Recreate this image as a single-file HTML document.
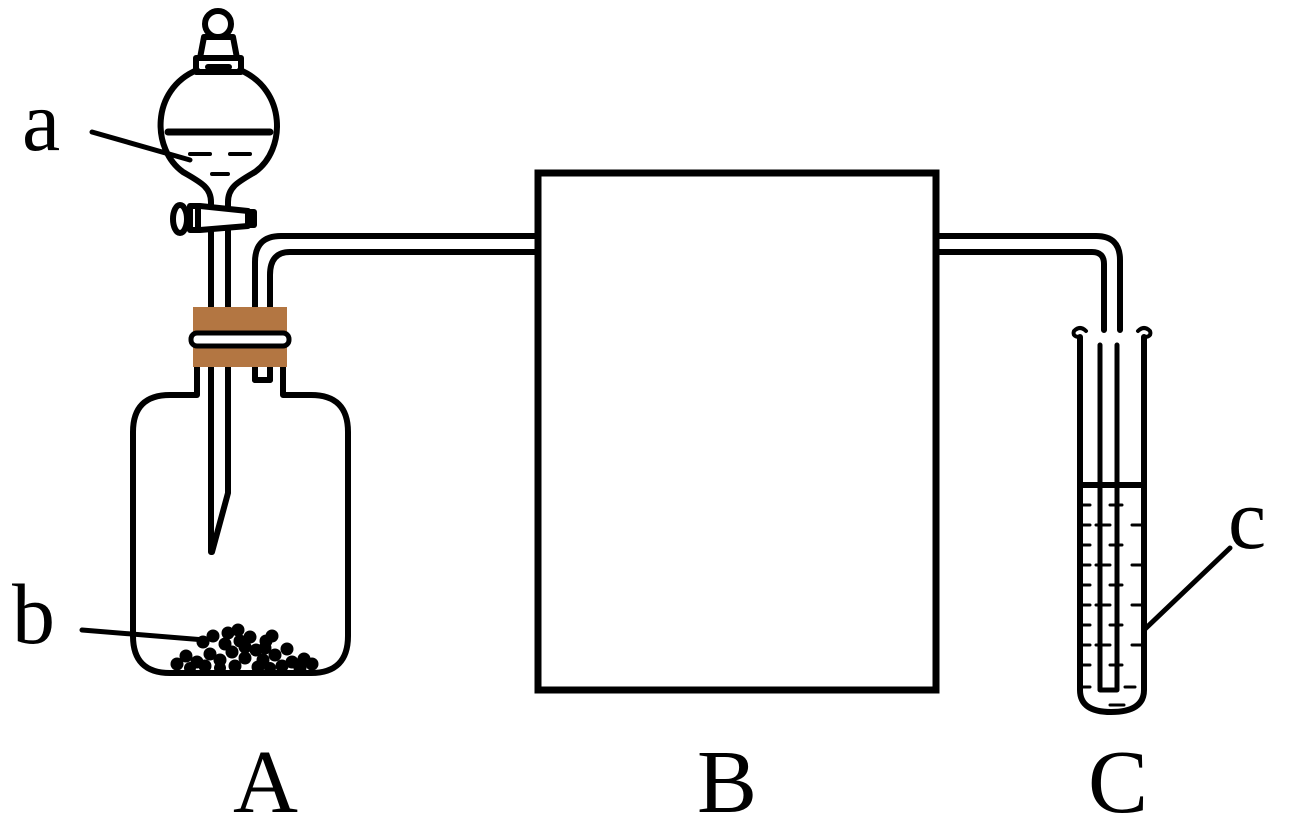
<!DOCTYPE html>
<html><head><style>body{margin:0;background:#fff}svg{display:block}</style></head><body>
<svg width="1298" height="826" viewBox="0 0 1298 826" xmlns="http://www.w3.org/2000/svg" fill="none" stroke="#000" stroke-width="6" stroke-linecap="round" stroke-linejoin="round">
<!-- separatory funnel -->
<circle cx="218" cy="24" r="13"/>
<path d="M204 37 H233 L237 58 H200 Z" fill="#fff"/>
<path d="M196 58 H241 V72 H196 Z" fill="#fff"/>
<line x1="208" y1="67" x2="229" y2="67"/>
<path d="M197 70 C150 90 152 150 183 172 C200 182 211 187 211 202 V552 M240 70 C287 90 286 150 255 172 C238 182 228 187 228 202 V493 L212 552"/>
<line x1="168" y1="132" x2="270" y2="132" stroke-width="7"/>
<line x1="190" y1="154" x2="210" y2="154" stroke-width="4"/>
<line x1="230" y1="154" x2="250" y2="154" stroke-width="4"/>
<line x1="212" y1="174" x2="228" y2="174" stroke-width="4"/>
<!-- stopcock -->
<ellipse cx="180" cy="219" rx="7" ry="14" fill="#fff"/>
<path d="M190 206 H200 L248 211 V226 L200 230 H190 Z" fill="#fff"/>
<line x1="198" y1="208" x2="198" y2="230"/>
<rect x="248" y="212" width="6" height="13" fill="#000"/>
<!-- bottle -->
<path d="M197 367 V395 H170 Q133 395 133 432 V636 Q133 673 170 673 H311 Q348 673 348 636 V432 Q348 395 311 395 H283 V367"/>
<!-- gas tube A -> B -->
<path d="M255 380 V262 Q255 236 281 236 H538"/>
<path d="M270 380 V275 Q270 252 290 252 H538"/>
<line x1="255" y1="380" x2="270" y2="380"/>
<!-- stopper (covers tubes) -->
<rect x="193" y="307" width="94" height="60" fill="#b37642" stroke="none"/>
<rect x="191" y="333" width="98" height="13" rx="6" fill="#fff" stroke-width="5"/>
<!-- B box -->
<rect x="538" y="173" width="398" height="517" stroke-width="7" stroke-linejoin="miter"/>
<!-- tube B -> C -->
<path d="M936 236 H1096 Q1120 236 1120 260 V330"/>
<path d="M936 252 H1092 Q1104 252 1104 264 V330"/>
<path d="M1100 345 V690 H1117 V345" stroke-width="5"/>
<!-- test tube -->
<path d="M1080 337 V690 Q1080 712 1111 712 Q1144 712 1144 690 V337" stroke-width="6"/>
<path d="M1080 337 Q1072 337 1074 331 Q1080 325 1086 331 M1144 337 Q1152 337 1150 331 Q1144 325 1138 331" stroke-width="4"/>
<line x1="1080" y1="485" x2="1144" y2="485" stroke-width="6"/>
<g stroke-width="3">
<path d="M1083 505h7M1110 505h12M1083 525h7M1096 525h14M1132 525h10M1083 545h7M1110 545h12M1083 565h7M1096 565h14M1132 565h10M1083 585h7M1110 585h12M1083 605h7M1096 605h14M1132 605h10M1083 625h7M1110 625h12M1083 645h7M1096 645h14M1132 645h10M1083 665h7M1110 665h12M1083 687h7M1125 687h10M1110 705h14"/>
</g>
<!-- pebbles -->
<g fill="#000" stroke="none">
<circle cx="203" cy="642" r="6.5"/><circle cx="213" cy="636" r="6.5"/><circle cx="228" cy="633" r="6.5"/><circle cx="238" cy="630" r="6.5"/><circle cx="225" cy="644" r="6.5"/><circle cx="240" cy="641" r="6.5"/><circle cx="250" cy="637" r="6.5"/><circle cx="266" cy="641" r="6.5"/><circle cx="272" cy="636" r="6.5"/><circle cx="186" cy="656" r="6.5"/><circle cx="197" cy="662" r="6.5"/><circle cx="210" cy="654" r="6.5"/><circle cx="220" cy="660" r="6.5"/><circle cx="232" cy="652" r="6.5"/><circle cx="245" cy="658" r="6.5"/><circle cx="256" cy="650" r="6.5"/><circle cx="263" cy="660" r="6.5"/><circle cx="275" cy="655" r="6.5"/><circle cx="287" cy="649" r="6.5"/><circle cx="292" cy="662" r="6.5"/><circle cx="304" cy="659" r="6.5"/><circle cx="312" cy="664" r="6.5"/><circle cx="177" cy="664" r="6.5"/><circle cx="205" cy="666" r="6.5"/><circle cx="235" cy="666" r="6.5"/><circle cx="258" cy="667" r="6.5"/><circle cx="282" cy="666" r="6.5"/><circle cx="300" cy="668" r="6.5"/><circle cx="245" cy="647" r="6.5"/><circle cx="265" cy="648" r="6.5"/><circle cx="190" cy="668" r="6"/><circle cx="220" cy="668" r="6"/><circle cx="270" cy="668" r="6"/>
</g>
<!-- leader lines -->
<line x1="92" y1="132" x2="190" y2="160" stroke-width="5"/>
<line x1="82" y1="630" x2="205" y2="640" stroke-width="5"/>
<line x1="1144" y1="630" x2="1230" y2="548" stroke-width="5"/>
<!-- labels -->
<g fill="#000" stroke="none" font-family="Liberation Serif, serif">
<text x="22" y="150" font-size="86">a</text>
<text x="12" y="643" font-size="86">b</text>
<text x="1228" y="548" font-size="86">c</text>
<text x="233" y="812" font-size="90">A</text>
<text x="697" y="812" font-size="90">B</text>
<text x="1088" y="812" font-size="90">C</text>
</g>
</svg>
</body></html>
